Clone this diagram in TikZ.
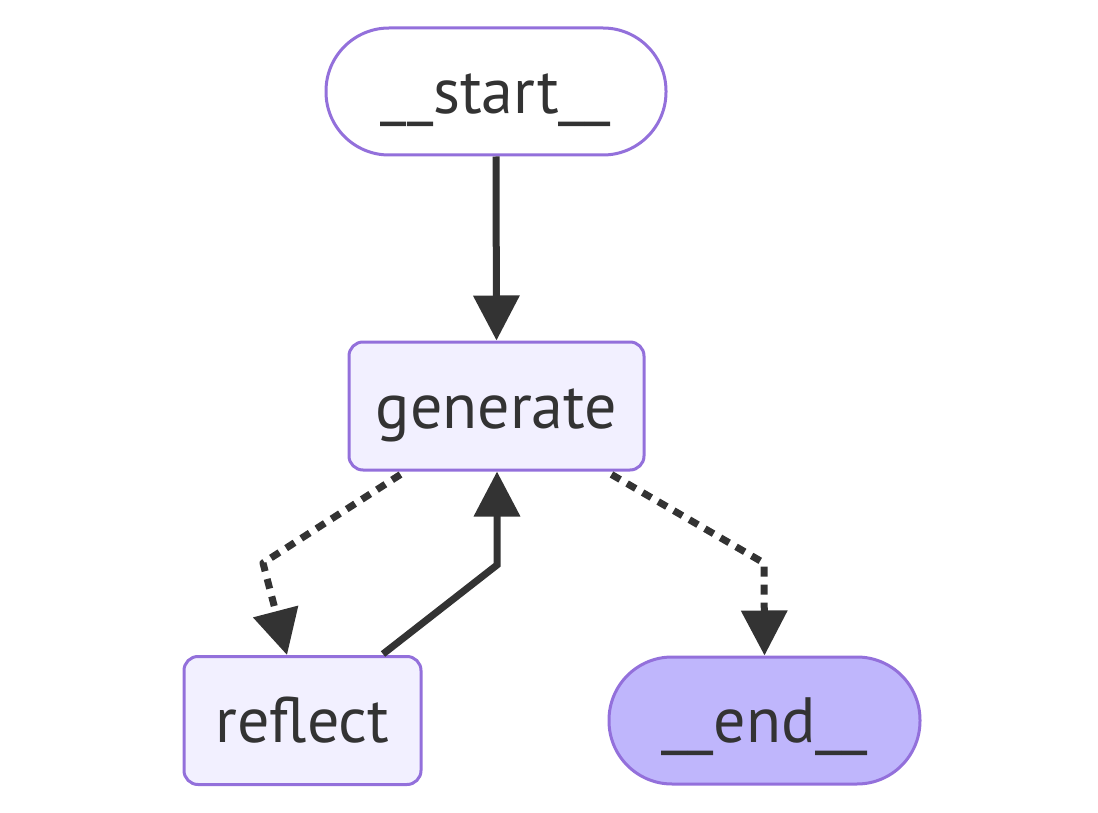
\documentclass[tikz,border=0pt]{standalone}
\usepackage{fontspec}
\setmainfont{PT Sans}
\usetikzlibrary{arrows.meta}
\definecolor{nodeborder}{HTML}{9370DB}
\definecolor{nodefill}{HTML}{F2F0FF}
\definecolor{lastfill}{HTML}{BFB6FC}
\definecolor{edgecol}{HTML}{333333}
\begin{document}
\begin{tikzpicture}[x=1pt,y=-1pt,
  base/.style={draw=nodeborder, line width=3pt, text=edgecol,
    font=\fontsize{64}{70}\selectfont, inner sep=0pt, anchor=center,
    text height=44pt, text depth=0pt},
  stadium/.style={base, minimum height=127pt, rounded corners=63pt},
  box/.style={base, fill=nodefill, minimum height=128pt, rounded corners=14pt},
  firstnode/.style={stadium, fill=white},
  lastnode/.style={stadium, fill=lastfill},
  tip/.style={-{Triangle[length=45pt,width=45pt]}},
  edge/.style={draw=edgecol, line width=7pt, tip},
  dottededge/.style={edge, dash pattern=on 10pt off 8pt, line join=round}
]
\useasboundingbox (0,0) rectangle (1098,813);

% nodes
\node[firstnode, minimum width=340pt] (start) at (496,91.5) {\_\_start\_\_};
\node[box, minimum width=295pt] (generate) at (496.5,406) {generate};
\node[box, minimum width=237pt] (reflect) at (302.5,720.5) {reflect};
\node[lastnode, minimum width=311pt] (end) at (764.5,720.5) {\_\_end\_\_};

% bend points of the routed edges
\coordinate (gr) at (263,563);
\coordinate (rg) at (497,565);
\coordinate (ge) at (764,563);

% edges
\draw[edge] (start.south) -- (generate.north);
\draw[dottededge] (generate.south west) ++(53,3) -- (gr) -- (reflect.north -| 287,0);
\draw[edge, line join=miter] (reflect.north) ++(80.5,-1) -- (rg) -- (generate.south -| 497,0);
\draw[dottededge] (generate.south east) ++(-34,3) -- (ge) -- (end.north -| 764.5,0);
\end{tikzpicture}
\end{document}
